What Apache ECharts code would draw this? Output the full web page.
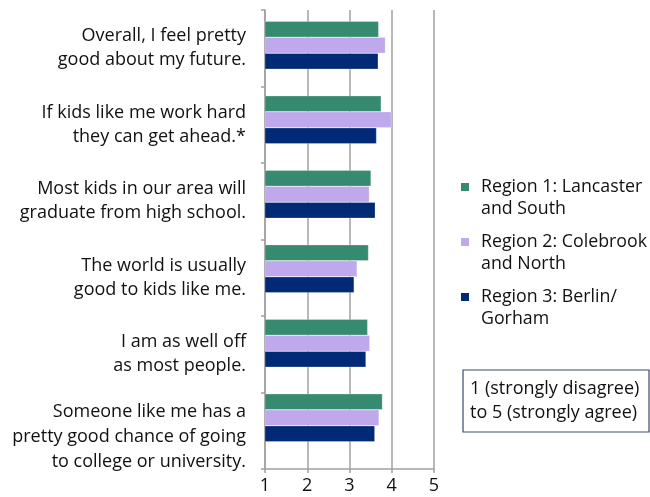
<!DOCTYPE html>
<html>
<head>
<meta charset="utf-8">
<script src="https://cdn.jsdelivr.net/npm/echarts@6/dist/echarts.min.js"></script>
<style>html,body{margin:0;padding:0;background:#fff}#c{width:650px;height:497px}</style>
</head>
<body>
<div id="c"></div>
<script>
var categories = [
  "Overall, I feel pretty\ngood about my future.",
  "If kids like me work hard\nthey can get ahead.*",
  "Most kids in our area will\ngraduate from high school.",
  "The world is usually\ngood to kids like me.",
  "I am as well off\nas most people.",
  "Someone like me has a\npretty good chance of going\nto college or university."
];
var seriesNames = ["Region 1: Lancaster\nand South", "Region 2: Colebrook\nand North", "Region 3: Berlin/\nGorham"];
var region1 = [3.69, 3.75, 3.51, 3.45, 3.43, 3.78];
var region2 = [3.85, 3.99, 3.47, 3.18, 3.48, 3.70];
var region3 = [3.68, 3.64, 3.61, 3.11, 3.39, 3.60];
var xTicks = [1, 2, 3, 4, 5];
var colors = ["#368A6F", "#BFA8EB", "#002A76"];
var FONT = "Open Sans";

var chart = echarts.init(document.getElementById('c'), null, {renderer: 'canvas'});
var vals = [region1, region2, region3];
var series = seriesNames.map(function (n, i) {
  return {
    name: n, type: 'bar', data: vals[i],
    xAxisIndex: 1, yAxisIndex: 1,
    barGap: '0%', barCategoryGap: '35.6%',
    itemStyle: {color: colors[i], borderColor: 'rgba(255,255,255,0.5)', borderWidth: 0.5},
    animation: false
  };
});
var gridLine = {color: '#a0a0a0', width: 1.5};
chart.setOption({
  animation: false,
  textStyle: {fontFamily: FONT},
  grid: [
    {left: 265, right: 216, top: 10, bottom: 28, containLabel: false},
    {left: 265, right: 216, top: 8, height: 447, containLabel: false}
  ],
  xAxis: [
    {
      type: 'value', gridIndex: 0, min: xTicks[0], max: xTicks[xTicks.length - 1], interval: 1,
      axisLine: {show: true, lineStyle: gridLine},
      axisTick: {show: true, length: 4, lineStyle: gridLine},
      splitLine: {show: true, lineStyle: gridLine},
      axisLabel: {color: '#111', fontSize: 18, fontFamily: FONT, margin: 8,
        formatter: function (v) { return xTicks.indexOf(v) >= 0 ? String(v) : ''; }}
    },
    {
      type: 'value', gridIndex: 1, min: xTicks[0], max: xTicks[xTicks.length - 1], interval: 1,
      show: false, splitLine: {show: false}
    }
  ],
  yAxis: [
    {
      type: 'category', gridIndex: 0, data: categories, inverse: true,
      axisLine: {show: true, lineStyle: gridLine},
      axisTick: {show: true, length: 4, lineStyle: gridLine},
      axisLabel: {
        color: '#111', fontSize: 18, fontFamily: FONT, lineHeight: 24, margin: 19, align: 'right',
        formatter: function (v) {
          var lines = v.split('\n');
          if (lines.length > 2) {
            return '{s| }\n' + lines.map(function (l) { return '{t|' + l + '}'; }).join('\n');
          }
          return v;
        },
        rich: {
          s: {lineHeight: 12, fontSize: 1},
          t: {lineHeight: 25, fontSize: 18, fontFamily: FONT, color: '#111', align: 'right'}
        }
      }
    },
    {
      type: 'category', gridIndex: 1, data: categories, inverse: true, show: false
    }
  ],
  legend: {
    orient: 'vertical', left: 461, top: 176, padding: 0,
    itemWidth: 15, itemHeight: 30, itemGap: 11,
    icon: 'path://M0,0H8V8H0Z M15,30L15.001,30L15,30Z',
    itemStyle: {borderWidth: 0},
    textStyle: {color: '#111', fontSize: 17.8, fontFamily: FONT, lineHeight: 22},
    data: seriesNames
  },
  graphic: [
    {type: 'rect', shape: {x: 463, y: 370, width: 186, height: 62},
     style: {fill: '#fff', stroke: '#3a4a6a', lineWidth: 1.2}},
    {type: 'text', left: 470, top: 377,
     style: {text: '1 (strongly disagree)\nto 5 (strongly agree)', fill: '#111', font: '18px "Open Sans"', lineHeight: 24}}
  ],
  series: series
});
</script>
</body>
</html>
